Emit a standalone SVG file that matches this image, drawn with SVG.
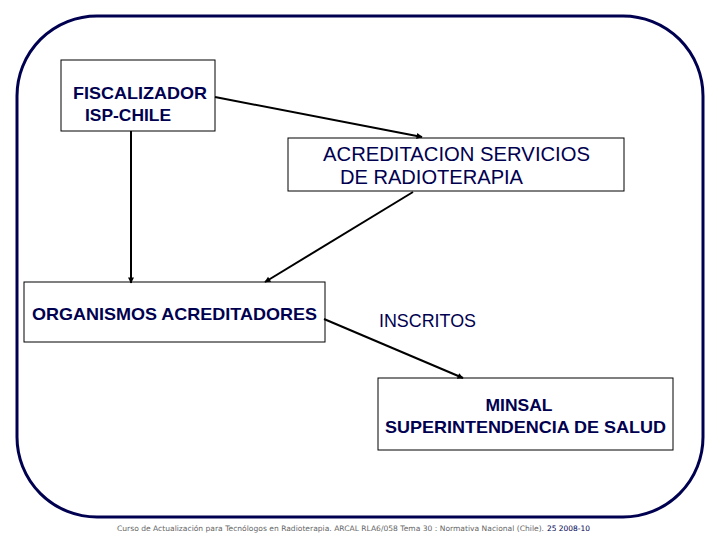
<svg xmlns="http://www.w3.org/2000/svg" width="720" height="540" viewBox="0 0 720 540">
<defs>
<marker id="ah" viewBox="0 0 10 10" refX="9" refY="5" markerWidth="7" markerHeight="6" markerUnits="userSpaceOnUse" orient="auto"><path d="M0,0 L10,5 L0,10 Z" fill="#000"/></marker>
</defs>
<style>
.box{fill:#fff;stroke:#000;stroke-width:1}
.t{font-family:"Liberation Sans",Arial,sans-serif;fill:#000050}
.b{font-weight:bold}
.c{stroke:#000;stroke-width:2;fill:none;marker-end:url(#ah)}
.f{font-family:"DejaVu Sans",Verdana,sans-serif;font-size:7.5px;fill:#666}
</style>
<rect x="0" y="0" width="720" height="540" fill="#fff"/>
<rect x="17" y="16" width="686" height="501" rx="80" ry="80" fill="none" stroke="#000050" stroke-width="3"/>
<g id="fiscalizador">
<rect class="box" x="61" y="60" width="154" height="71"/>
<text class="t b" x="73" y="99" font-size="17" textLength="134" lengthAdjust="spacingAndGlyphs">FISCALIZADOR</text>
<text class="t b" x="85" y="121" font-size="17" textLength="86" lengthAdjust="spacingAndGlyphs">ISP-CHILE</text>
</g>
<g id="acreditacion">
<rect class="box" x="288" y="138" width="336" height="53"/>
<text class="t" x="323" y="161" font-size="19.5" textLength="267" lengthAdjust="spacingAndGlyphs">ACREDITACION SERVICIOS</text>
<text class="t" x="340" y="184" font-size="19.5" textLength="183" lengthAdjust="spacingAndGlyphs">DE RADIOTERAPIA</text>
</g>
<g id="organismos">
<rect class="box" x="24" y="282" width="301" height="60"/>
<text class="t b" x="32" y="320" font-size="17" textLength="285" lengthAdjust="spacingAndGlyphs">ORGANISMOS ACREDITADORES</text>
</g>
<g id="minsal">
<rect class="box" x="378" y="378" width="295" height="72"/>
<text class="t b" x="519" y="411" font-size="17" text-anchor="middle" textLength="67" lengthAdjust="spacingAndGlyphs">MINSAL</text>
<text class="t b" x="385" y="433" font-size="17" textLength="281" lengthAdjust="spacingAndGlyphs">SUPERINTENDENCIA DE SALUD</text>
</g>
<g id="label-inscritos">
<text class="t" x="379" y="327" font-size="18" textLength="97" lengthAdjust="spacingAndGlyphs">INSCRITOS</text>
</g>
<g id="connectors">
<line class="c" x1="215" y1="97" x2="422" y2="137"/>
<line class="c" x1="131" y1="131" x2="131" y2="283"/>
<line class="c" x1="413" y1="192" x2="265" y2="282"/>
<line class="c" x1="324" y1="319" x2="463" y2="378"/>
</g>
<g id="footer">
<text class="f" x="117" y="531" textLength="427" lengthAdjust="spacingAndGlyphs">Curso de Actualización para Tecnólogos en Radioterapia.  ARCAL RLA6/058   Tema  30  :  Normativa Nacional (Chile).</text>
<text class="f" x="547" y="531" style="fill:#000050" textLength="43" lengthAdjust="spacingAndGlyphs">25  2008-10</text>
</g>
</svg>
